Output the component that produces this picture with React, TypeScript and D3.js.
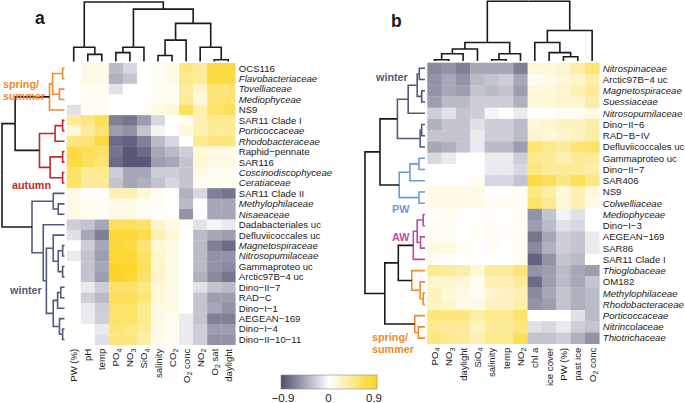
import React from "react";
import * as d3 from "d3";

// ---------- data ----------
const rowsA = ["OCS116","Flavobacteriaceae","Tovelliaceae","Mediophyceae","NS9","SAR11 Clade I","Porticoccaceae","Rhodobacteraceae","Raphid−pennate","SAR116","Coscinodiscophyceae","Ceratiaceae","SAR11 Clade II","Methylophilaceae","Nisaeaceae","Dadabacteriales uc","Defluviicoccales uc","Magnetospiraceae","Nitrosopumilaceae","Gammaproteo uc","Arctic97B−4 uc","Dino−II−7","RAD−C","Dino−I−1","AEGEAN−169","Dino−I−4","Dino−II−10−11"];
const colsA = ["PW (%)","pH","temp","PO_4","NO_3","SiO_4","salinity","CO_2","O_2 conc","NO_2","O_2 sat","daylight"];
const valuesA = [
  [0, 0.1, 0.1, -0.35, -0.2, 0, 0.05, 0.1, 0.5, 0.4, 0.75, 0.75],
  [0, 0.1, 0.1, -0.4, -0.3, 0, 0.05, 0.1, 0.45, 0.4, 0.75, 0.75],
  [0, 0.05, 0.05, -0.15, 0, 0, 0.05, 0.05, 0.4, 0.2, 0.55, 0.55],
  [0, 0.05, 0.05, 0, 0, 0, 0.05, 0.05, 0.4, 0.15, 0.55, 0.55],
  [-0.15, 0.05, 0.05, 0, 0, 0.05, 0.1, 0.15, 0.65, 0.3, 0.6, 0.65],
  [0.4, 0.5, 0.65, -0.65, -0.7, -0.5, -0.2, 0, 0.05, 0.3, 0.45, 0.45],
  [0.15, 0.4, 0.55, -0.5, -0.55, -0.3, -0.05, 0, 0.15, 0.3, 0.4, 0.4],
  [0.5, 0.55, 0.75, -0.75, -0.8, -0.65, -0.35, -0.2, 0, 0.45, 0.5, 0.5],
  [0.75, 0.65, 0.6, -0.7, -0.85, -0.75, -0.45, -0.35, -0.25, 0.15, 0.1, 0.1],
  [0.75, 0.65, 0.55, -0.75, -0.85, -0.85, -0.5, -0.45, -0.3, 0.15, 0.1, 0.1],
  [0.6, 0.4, 0.45, -0.25, -0.45, -0.45, -0.25, -0.25, -0.3, 0.1, 0.05, 0.05],
  [0.6, 0.4, 0.4, -0.3, -0.45, -0.4, -0.3, -0.2, -0.3, 0.05, 0.05, 0.05],
  [0.1, 0, 0, 0.3, 0.3, 0.15, 0.05, 0, -0.4, -0.2, -0.65, -0.7],
  [0.1, 0.05, 0.05, 0.1, 0.1, 0.05, 0.05, 0, -0.35, 0, -0.45, -0.45],
  [0.1, 0.05, 0.05, 0.1, 0.1, 0.05, 0, 0, -0.55, 0, -0.45, -0.45],
  [-0.25, -0.3, -0.45, 0.65, 0.65, 0.6, 0.2, 0.1, 0.05, -0.15, -0.05, -0.1],
  [-0.15, -0.45, -0.65, 0.8, 0.8, 0.7, 0.3, 0.15, 0, -0.35, -0.45, -0.5],
  [0, -0.25, -0.45, 0.8, 0.75, 0.55, 0.15, 0.1, 0, -0.35, -0.65, -0.75],
  [-0.1, -0.3, -0.5, 0.8, 0.8, 0.6, 0.2, 0.1, 0, -0.35, -0.55, -0.55],
  [0, -0.3, -0.45, 0.85, 0.85, 0.65, 0.2, 0.1, 0, -0.35, -0.55, -0.6],
  [0, -0.3, -0.5, 0.85, 0.8, 0.6, 0.2, 0.1, 0, -0.4, -0.6, -0.7],
  [0, -0.1, -0.25, 0.6, 0.6, 0.5, 0.15, 0.1, 0, -0.15, -0.3, -0.35],
  [0, -0.25, -0.35, 0.65, 0.65, 0.55, 0.15, 0.1, 0, -0.3, -0.5, -0.5],
  [0, -0.1, -0.25, 0.6, 0.6, 0.45, 0.1, 0.1, 0, -0.3, -0.45, -0.55],
  [0, -0.1, -0.25, 0.6, 0.6, 0.45, 0.1, 0.05, -0.1, -0.3, -0.65, -0.65],
  [0.03, 0, -0.1, 0.55, 0.5, 0.4, 0.1, 0.05, -0.1, -0.25, -0.5, -0.5],
  [0, 0, -0.15, 0.5, 0.5, 0.35, 0.1, 0.05, -0.1, -0.25, -0.55, -0.55],
];

const rowsB = ["Nitrospinaceae","Arctic97B−4 uc","Magnetospiraceae","Suessiaceae","Nitrosopumilaceae","Dino−II−6","RAD−B−IV","Defluviicoccales uc","Gammaproteo uc","Dino−II−7","SAR406","NS9","Colwelliaceae","Mediophyceae","Dino−I−3","AEGEAN−169","SAR86","SAR11 Clade I","Thioglobaceae","OM182","Methylophilaceae","Rhodobacteraceae","Porticoccaceae","Nitrincolaceae","Thiotrichaceae"];
const colsB = ["PO_4","NO_3","daylight","SiO_4","salinity","temp","NO_2","chl a","ice cover","PW (%)","past ice","O_2 conc"];
const valuesB = [
  [-0.6, -0.55, -0.65, -0.45, -0.45, -0.45, -0.65, 0.15, 0.15, 0.2, 0.35, 0.55],
  [-0.55, -0.45, -0.55, -0.35, -0.3, -0.25, -0.45, 0.05, 0.1, 0.15, 0.2, 0.35],
  [-0.55, -0.45, -0.5, -0.3, -0.35, -0.3, -0.5, 0.15, 0.15, 0.2, 0.3, 0.4],
  [-0.5, -0.35, -0.35, -0.25, -0.25, -0.25, -0.4, 0.15, 0.15, 0.2, 0.2, 0.35],
  [-0.25, -0.15, -0.3, -0.25, -0.05, 0, -0.1, 0, 0.02, 0.05, 0.05, 0.1],
  [-0.4, -0.3, -0.3, -0.15, -0.25, -0.25, -0.35, 0.15, 0.2, 0.25, 0.25, 0.35],
  [-0.3, -0.3, -0.3, -0.1, -0.25, -0.25, -0.35, 0.2, 0.15, 0.2, 0.25, 0.35],
  [-0.45, -0.4, -0.3, -0.1, -0.35, -0.35, -0.5, 0.55, 0.45, 0.4, 0.55, 0.6],
  [-0.2, -0.1, 0, 0, -0.1, -0.1, -0.25, 0.45, 0.4, 0.3, 0.4, 0.4],
  [0, 0, 0, 0, -0.1, -0.1, -0.2, 0.5, 0.4, 0.4, 0.4, 0.35],
  [0, 0, 0, 0.05, -0.2, -0.2, -0.3, 0.75, 0.65, 0.5, 0.65, 0.5],
  [0.1, 0.1, 0.1, 0.1, 0, 0, 0.05, 0.5, 0.35, 0.15, 0.3, 0.15],
  [0.1, 0.1, 0.1, 0.1, 0.05, 0.05, 0.05, 0.6, 0.45, 0.15, 0.3, 0.1],
  [0.02, 0.05, 0.02, 0.02, 0.02, 0, 0.05, -0.55, -0.3, -0.05, -0.15, 0],
  [0.05, 0.05, 0, 0.03, 0.05, 0.02, 0.05, -0.5, -0.35, -0.15, -0.2, 0],
  [0.05, 0.05, 0, 0.03, 0.05, 0.02, 0.05, -0.7, -0.45, -0.25, -0.3, -0.1],
  [0.1, 0.1, 0.05, 0, 0.05, 0.02, 0.05, -0.6, -0.4, -0.25, -0.3, -0.1],
  [0.05, 0.02, 0, 0, 0, 0, 0.05, -0.8, -0.55, -0.3, -0.35, 0],
  [0.45, 0.4, 0.35, 0.15, 0.4, 0.4, 0.55, -0.55, -0.5, -0.35, -0.45, -0.5],
  [0.2, 0.2, 0.15, 0.05, 0.3, 0.3, 0.4, -0.75, -0.5, -0.35, -0.45, -0.3],
  [0.25, 0.15, 0.1, 0.05, 0.2, 0.25, 0.3, -0.6, -0.45, -0.3, -0.4, -0.35],
  [0.25, 0.2, 0.1, 0.1, 0.25, 0.25, 0.35, -0.55, -0.5, -0.3, -0.4, -0.35],
  [0.5, 0.5, 0.5, 0.35, 0.45, 0.45, 0.6, 0, 0, 0, -0.15, -0.35],
  [0.45, 0.4, 0.4, 0.25, 0.4, 0.4, 0.5, -0.15, -0.2, -0.1, -0.25, -0.3],
  [0.5, 0.45, 0.4, 0.3, 0.45, 0.45, 0.65, -0.3, -0.3, -0.25, -0.4, -0.55],
];

// dendrograms: [height, left, right, cluster?]; leaves are row/column indices
type Tree = number | [number, Tree, Tree, string?];
const rowTreeA: Tree = [1.0,
  [0.79,
    [0.24, [0.19, [0.03, 0, 1], [0.08, 2, 3]], 4, "spring"],
    [0.40, [0.15, [0.03, 5, 6], 7], [0.23, [0.03, 8, 9], [0.03, 10, 11]], "autumn"]],
  [0.52, [0.18, 12, [0.10, 13, 14]],
    [0.34, 15, [0.29, [0.18, 16, [0.10, [0.03, 17, 18], [0.03, 19, 20]]],
      [0.18, [0.11, [0.06, 21, 22], 23], [0.08, 24, [0.03, 25, 26]]]]], "winter"]];
const colTreeA: Tree = [1.0,
  [0.24, 0, [0.12, 1, 2]],
  [0.88, [0.24, [0.15, 3, 4], 5], [0.64, [0.36, [0.10, 6, 7], 8], [0.24, 9, [0.03, 10, 11]]]]];
const rowTreeB: Tree = [1.0,
  [0.75,
    [0.46, [0.28, [0.13, [0.095, 0, 1], [0.055, 2, 3]], 4], [0.08, [0.055, 5, 6], 7], "winter"],
    [0.43, [0.25, [0.1, 8, 9], 10], [0.1, 11, 12], "pw"]],
  [0.67,
    [0.445, [0.195, [0.13, [0.03, 13, 14], [0.075, 15, 16]], 17, "aw"], [0.22, 18, [0.08, 19, [0.03, 20, 21]], "spring"]],
    [0.17, 22, [0.11, 23, 24], "spring"]]];
const colTreeB: Tree = [1.0,
  [0.31, [0.20, [0.12, [0.02, 0, 1], 2], 3], [0.12, [0.02, 4, 5], 6]],
  [0.51, [0.31, 7, [0.14, 8, [0.07, 9, 10]]], 11]];

const clusterColors: Record<string, string> = {
  spring: "#f08a2e", autumn: "#c1272d", winter: "#525a7b", pw: "#6d9bd5", aw: "#b24f9f",
};
const legendTicks = [-0.9, 0, 0.9];

// ---------- helpers ----------
const FONT = "'Liberation Sans', Arial, Helvetica, sans-serif";
const INK = "#1a1a1a";
const color = d3.scaleLinear<string>().domain([-0.9, 0, 0.9]).range(["#4c4f6e", "#ffffff", "#fbd31c"]).clamp(true);

function dendro(tree: Tree, pos: (i: number) => number, hs: d3.ScaleLinear<number, number>, rows: boolean) {
  const segs: { d: string; c: string }[] = [];
  function walk(node: Tree, inh: string | null): { p: number; h: number } {
    if (typeof node === "number") return { p: pos(node), h: 0 };
    const [h, l, r, key] = node;
    const own = key ? clusterColors[key] : inh;
    const a = walk(l, own), b = walk(r, own);
    const p = (a.p + b.p) / 2;
    for (const ch of [a, b]) {
      const d = rows
        ? `M${hs(h)},${p}V${ch.p}H${hs(ch.h)}`
        : `M${p},${hs(h)}H${ch.p}V${hs(ch.h)}`;
      segs.push({ d, c: own ?? INK });
    }
    return { p, h };
  }
  walk(tree, null);
  return segs;
}

function SubText({ text }: { text: string }) {
  const parts = text.split(/_(\d)/);
  return (
    <>
      {parts.map((s, i) =>
        i % 2 === 1 ? (
          <tspan key={i} fontSize={7} dy={2.5}>{s}</tspan>
        ) : (
          <tspan key={i} dy={i > 0 ? -2.5 : 0}>{s}</tspan>
        )
      )}
    </>
  );
}

function Panel({ rows, cols, values, rowTree, colTree, x0, x1, y0, y1, rowLeaf, rowRoot, colLeaf, colRoot }: any) {
  const x = d3.scaleBand<number>().domain(d3.range(cols.length)).range([x0, x1]);
  const y = d3.scaleBand<number>().domain(d3.range(rows.length)).range([y0, y1]);
  const hr = d3.scaleLinear().domain([0, 1]).range([rowLeaf, rowRoot]);
  const hc = d3.scaleLinear().domain([0, 1]).range([colLeaf, colRoot]);
  const rsegs = dendro(rowTree, (i) => y(i)! + y.bandwidth() / 2, hr, true);
  const csegs = dendro(colTree, (i) => x(i)! + x.bandwidth() / 2, hc, false);
  return (
    <g>
      {values.map((r: number[], i: number) =>
        r.map((v, j) => (
          <rect key={i + "-" + j} x={x(j)} y={y(i)} width={x.bandwidth() + 0.3} height={y.bandwidth() + 0.3} fill={color(v)} />
        ))
      )}
      {rsegs.map((s, i) => (
        <path key={"r" + i} d={s.d} fill="none" stroke={s.c} strokeWidth={1.6} />
      ))}
      {csegs.map((s, i) => (
        <path key={"c" + i} d={s.d} fill="none" stroke={INK} strokeWidth={1.6} />
      ))}
      {rows.map((name: string, i: number) => (
        <text key={"rl" + i} x={x1 + 3.5} y={y(i)! + y.bandwidth() / 2 + 3.4} fontSize={9.6}
          fontStyle={/ceae$/.test(name) ? "italic" : "normal"} fill={INK}>{name}</text>
      ))}
      {cols.map((name: string, j: number) => (
        <text key={"cl" + j} transform={`translate(${x(j)! + x.bandwidth() / 2 + 3.5},${y1 + 4}) rotate(-90)`}
          textAnchor="end" fontSize={9.6} fill={INK}><SubText text={name} /></text>
      ))}
    </g>
  );
}

export default function App() {
  const lx = d3.scaleLinear().domain([-0.9, 0.9]).range([283, 374]);
  const stops = d3.range(0, 1.0001, 0.1);
  return (
    <svg width={685} height={403} style={{ position: "absolute", left: 0, top: 0, background: "#fff" }} fontFamily={FONT}>
      <defs>
        <linearGradient id="cb" x1="0" x2="1" y1="0" y2="0">
          {stops.map((t) => (
            <stop key={t} offset={t} stopColor={color(-0.9 + 1.8 * t)} />
          ))}
        </linearGradient>
      </defs>
      <Panel rows={rowsA} cols={colsA} values={valuesA} rowTree={rowTreeA} colTree={colTreeA}
        x0={66.7} x1={235.3} y0={63} y1={344.7} rowLeaf={64.5} rowRoot={2} colLeaf={61.5} colRoot={2} />
      <Panel rows={rowsB} cols={colsB} values={valuesB} rowTree={rowTreeB} colTree={colTreeB}
        x0={427.3} x1={599.3} y0={62.7} y1={343.7} rowLeaf={425} rowRoot={365} colLeaf={61} colRoot={1.2} />

      {/* panel letters */}
      <text x={35} y={23.5} fontSize={17.5} fontWeight="bold" fill={INK}>a</text>
      <text x={391} y={27} fontSize={17.5} fontWeight="bold" fill={INK}>b</text>

      {/* cluster labels */}
      <g fontSize={10.8} fontWeight="bold">
        <text x={3} y={88} fill={clusterColors.spring}>spring/</text>
        <text x={3} y={100} fill={clusterColors.spring}>summer</text>
        <text x={12} y={189} fill={clusterColors.autumn}>autumn</text>
        <text x={10} y={294} fill={clusterColors.winter}>winter</text>
        <text x={376} y={81} fill={clusterColors.winter}>winter</text>
        <text x={392} y={212.5} fill={clusterColors.pw}>PW</text>
        <text x={392} y={240.5} fill={clusterColors.aw}>AW</text>
        <text x={372} y={341} fill={clusterColors.spring}>spring/</text>
        <text x={372} y={353} fill={clusterColors.spring}>summer</text>
      </g>

      {/* colour bar */}
      <rect x={281} y={375} width={96} height={14} fill="url(#cb)" stroke="#8a8a8a" strokeWidth={0.6} />
      {legendTicks.map((t) => (
        <text key={t} x={lx(t)} y={402} fontSize={11.5} textAnchor="middle" fill={INK}>
          {t < 0 ? "−" + Math.abs(t) : String(t)}
        </text>
      ))}
    </svg>
  );
}
